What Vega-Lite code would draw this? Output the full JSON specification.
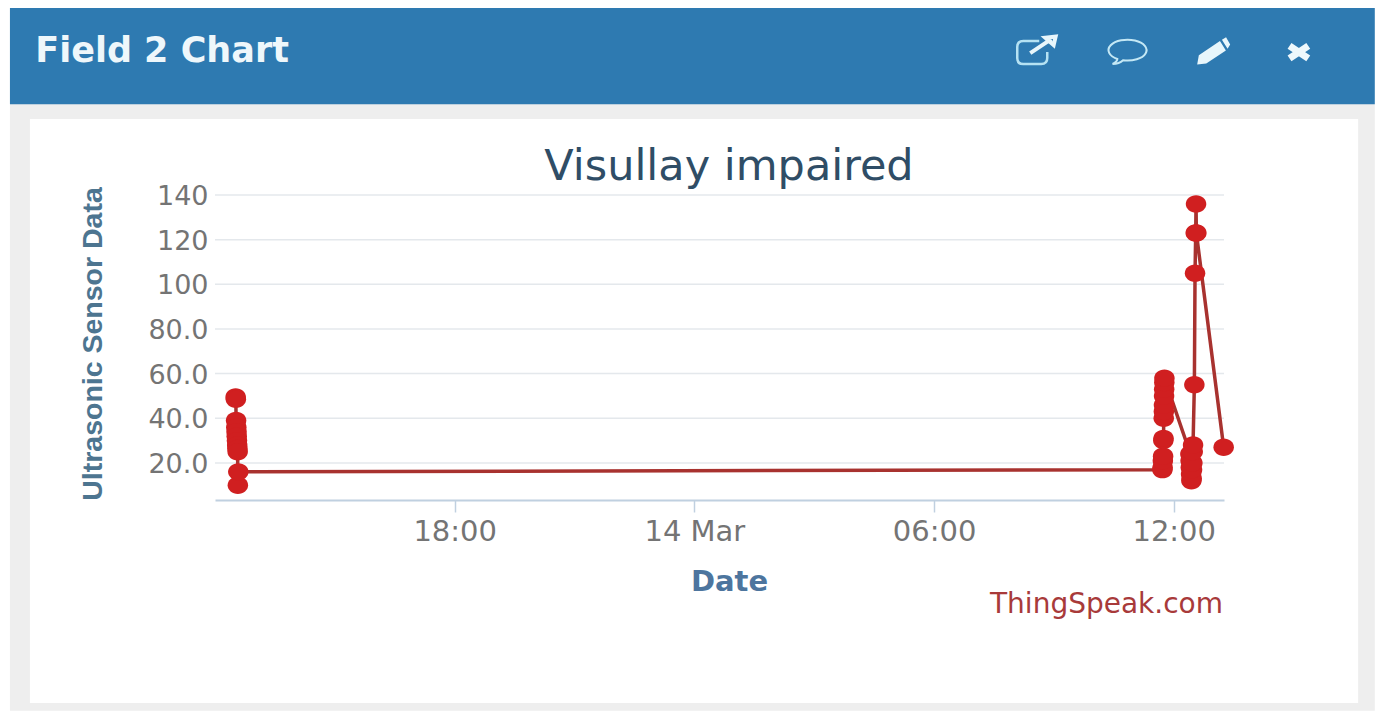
{
"$schema":"https://vega.github.io/schema/vega-lite/v6.json",
"width":1009,"height":305,
"autosize":{"type":"none"},
"padding":{"left":215,"top":195,"right":157,"bottom":211},
"background":"#ffffff",
"config":{"view":{"stroke":null}},
"datasets":{
"panel":[{"t":"2019-03-13T06:52:00","t2":"2019-03-14T17:02:00","v":-91,"v2":181}],
"header":[{"t":"2019-03-13T06:52:00","t2":"2019-03-14T17:02:00","v":180.7,"v2":223.7}],
"card":[{"t":"2019-03-13T07:22:00","t2":"2019-03-14T16:37:00","v":-87.5,"v2":174}],
"grid":[{"v":20},{"v":40},{"v":60},{"v":80},{"v":100},{"v":120},{"v":140}],
"readings":[
{"t":"2019-03-13T12:31:00","v":49.5},{"t":"2019-03-13T12:31:20","v":48.5},{"t":"2019-03-13T12:31:40","v":39},{"t":"2019-03-13T12:32:00","v":36},{"t":"2019-03-13T12:32:20","v":34},{"t":"2019-03-13T12:32:40","v":32},{"t":"2019-03-13T12:33:00","v":30},{"t":"2019-03-13T12:33:20","v":28},{"t":"2019-03-13T12:33:40","v":26.5},{"t":"2019-03-13T12:34:00","v":25},{"t":"2019-03-13T12:34:20","v":10},{"t":"2019-03-13T12:35:00","v":16},
{"t":"2019-03-14T11:43:00","v":17},{"t":"2019-03-14T11:43:20","v":18},{"t":"2019-03-14T11:43:40","v":21},{"t":"2019-03-14T11:44:00","v":23},{"t":"2019-03-14T11:44:20","v":30},{"t":"2019-03-14T11:44:40","v":31},{"t":"2019-03-14T11:45:00","v":40},{"t":"2019-03-14T11:45:10","v":43},{"t":"2019-03-14T11:45:20","v":46},{"t":"2019-03-14T11:45:30","v":50},{"t":"2019-03-14T11:45:40","v":53},{"t":"2019-03-14T11:45:50","v":56},{"t":"2019-03-14T11:46:00","v":58},
{"t":"2019-03-14T12:25:00","v":24},{"t":"2019-03-14T12:25:20","v":21},{"t":"2019-03-14T12:25:40","v":18},{"t":"2019-03-14T12:26:00","v":15},{"t":"2019-03-14T12:26:30","v":12},{"t":"2019-03-14T12:27:00","v":13},{"t":"2019-03-14T12:27:30","v":17},{"t":"2019-03-14T12:28:00","v":20},{"t":"2019-03-14T12:28:30","v":25},{"t":"2019-03-14T12:29:00","v":28},
{"t":"2019-03-14T12:31:00","v":55},{"t":"2019-03-14T12:32:00","v":105},{"t":"2019-03-14T12:33:00","v":123},{"t":"2019-03-14T12:33:30","v":136},{"t":"2019-03-14T12:34:00","v":123},{"t":"2019-03-14T13:15:00","v":27}
],
"chartTitle":[{"t":"2019-03-14T00:52:00","v":152.5,"label":"Visullay impaired"}],
"heading":[{"t":"2019-03-13T07:30:00","v":204.4,"label":"Field 2 Chart"}],
"credit":[{"t":"2019-03-14T13:14:00","v":-43.6,"label":"ThingSpeak.com"}],
"iconLink":[{"t":"2019-03-14T08:35:00","v":204.9}],
"iconComment":[{"t":"2019-03-14T10:51:00","v":204}],
"iconPencil":[{"t":"2019-03-14T13:00:00","v":204.4}],
"iconClose":[{"t":"2019-03-14T15:08:00","v":204}]
},
"encoding":{
"x":{"field":"t","type":"temporal","title":"Date",
"scale":{"domain":[{"year":2019,"month":3,"date":13,"hours":12},{"year":2019,"month":3,"date":14,"hours":13,"minutes":15,"seconds":30}]},
"axis":{"zindex":1,"grid":false,"values":[{"year":2019,"month":3,"date":13,"hours":18},{"year":2019,"month":3,"date":14,"hours":0},{"year":2019,"month":3,"date":14,"hours":6},{"year":2019,"month":3,"date":14,"hours":12}],
"labelExpr":"hours(datum.value)==0 ? timeFormat(datum.value,'%d %b') : timeFormat(datum.value,'%H:%M')",
"labelFont":"DejaVu Sans","labelFontSize":29,"labelColor":"#747474","labelPadding":5,"labelFlush":false,"labelOverlap":false,
"domainColor":"#c0d0e0","domainWidth":2,"tickColor":"#c0d0e0","tickWidth":1.5,"tickSize":12,
"titleFont":"DejaVu Sans","titleFontSize":29,"titleFontWeight":"bold","titleColor":"#4d759e","titleX":514,"titlePadding":21}},
"y":{"field":"v","type":"quantitative","title":"Ultrasonic Sensor Data",
"scale":{"domain":[3.4,140],"nice":false,"zero":false},
"axis":{"zindex":1,"grid":false,"domain":false,"ticks":false,"values":[20,40,60,80,100,120,140],
"labelExpr":"datum.value>=100 ? format(datum.value,'d') : format(datum.value,'.1f')",
"labelFont":"DejaVu Sans","labelFontSize":27,"labelColor":"#747474","labelPadding":7,"labelOverlap":false,"labelBound":false,"labelOffset":1.5,
"titleFont":"Liberation Sans","titleFontSize":28.5,"titleFontWeight":"bold","titleColor":"#4d7590","titlePadding":40,"titleY":148.5}}
},
"layer":[
{"data":{"name":"panel"},"mark":{"type":"rect","color":"#eeeeee","clip":false},"encoding":{"x2":{"field":"t2"},"y2":{"field":"v2"}}},
{"data":{"name":"header"},"mark":{"type":"rect","color":"#2e7ab1","clip":false},"encoding":{"x2":{"field":"t2"},"y2":{"field":"v2"}}},
{"data":{"name":"card"},"mark":{"type":"rect","color":"#ffffff","clip":false},"encoding":{"x2":{"field":"t2"},"y2":{"field":"v2"}}},
{"data":{"name":"grid"},"mark":{"type":"rule","color":"#e4e8ec","strokeWidth":1.5},"encoding":{"x":{"value":0},"x2":{"value":1009},"y":{"field":"v","type":"quantitative"}}},
{"data":{"name":"readings"},"mark":{"type":"line","color":"#a8322f","strokeWidth":3.5,"interpolate":"linear","clip":false}},
{"data":{"name":"readings"},"mark":{"type":"point","filled":true,"opacity":1,"color":"#d01f20","size":420,"shape":"M -1 0 A 1 0.85 0 1 1 1 0 A 1 0.85 0 1 1 -1 0 Z","clip":false}},
{"data":{"name":"chartTitle"},"mark":{"type":"text","align":"center","baseline":"middle","font":"DejaVu Sans","fontSize":43,"color":"#2f4d66","clip":false},"encoding":{"text":{"field":"label"}}},
{"data":{"name":"heading"},"mark":{"type":"text","align":"left","baseline":"middle","font":"DejaVu Sans","fontSize":35,"fontWeight":"bold","color":"#eef7fb","clip":false},"encoding":{"text":{"field":"label"}}},
{"data":{"name":"credit"},"mark":{"type":"text","align":"right","baseline":"middle","font":"DejaVu Sans","fontSize":28,"color":"#a83a3a","clip":false},"encoding":{"text":{"field":"label"}}},
{"data":{"name":"iconLink"},"mark":{"type":"point","filled":false,"opacity":1,"color":"#b5e2f3","strokeWidth":2.5,"size":1600,"shape":"M 0.1 -0.45 L -0.7 -0.45 Q -1 -0.45 -1 -0.15 L -1 0.4 Q -1 0.7 -0.7 0.7 L 0.2 0.7 Q 0.5 0.7 0.5 0.4 L 0.5 0.1","clip":false}},
{"data":{"name":"iconLink"},"mark":{"type":"point","filled":false,"opacity":1,"color":"#e8f6fb","strokeWidth":4,"size":1600,"shape":"M -0.35 0.15 L 0.7 -0.55 M 0.4 -0.62 L 0.92 -0.68 L 0.82 -0.25 Z","clip":false}},
{"data":{"name":"iconComment"},"mark":{"type":"point","filled":false,"opacity":1,"color":"#c4e8f5","strokeWidth":2,"size":1444,"shape":"M -0.55 0.36 A 1 0.55 0 1 1 -0.25 0.43 Q -0.45 0.62 -0.8 0.62 Q -0.55 0.5 -0.55 0.36 Z","clip":false}},
{"data":{"name":"iconPencil"},"mark":{"type":"point","filled":true,"opacity":1,"color":"#e8f6fb","size":1089,"shape":"M -1 0.8 L -0.9 0.25 L 0.38 -0.62 L 0.74 -0.05 L -0.45 0.75 Z M 0.5 -0.7 L 0.75 -0.85 L 1 -0.4 L 0.84 -0.15 Z","clip":false}},
{"data":{"name":"iconClose"},"mark":{"type":"point","filled":false,"opacity":1,"color":"#eef8fc","strokeWidth":7,"size":625,"shape":"M -0.75 -0.5 L 0.75 0.5 M -0.75 0.5 L 0.75 -0.5","clip":false}}
]
}
